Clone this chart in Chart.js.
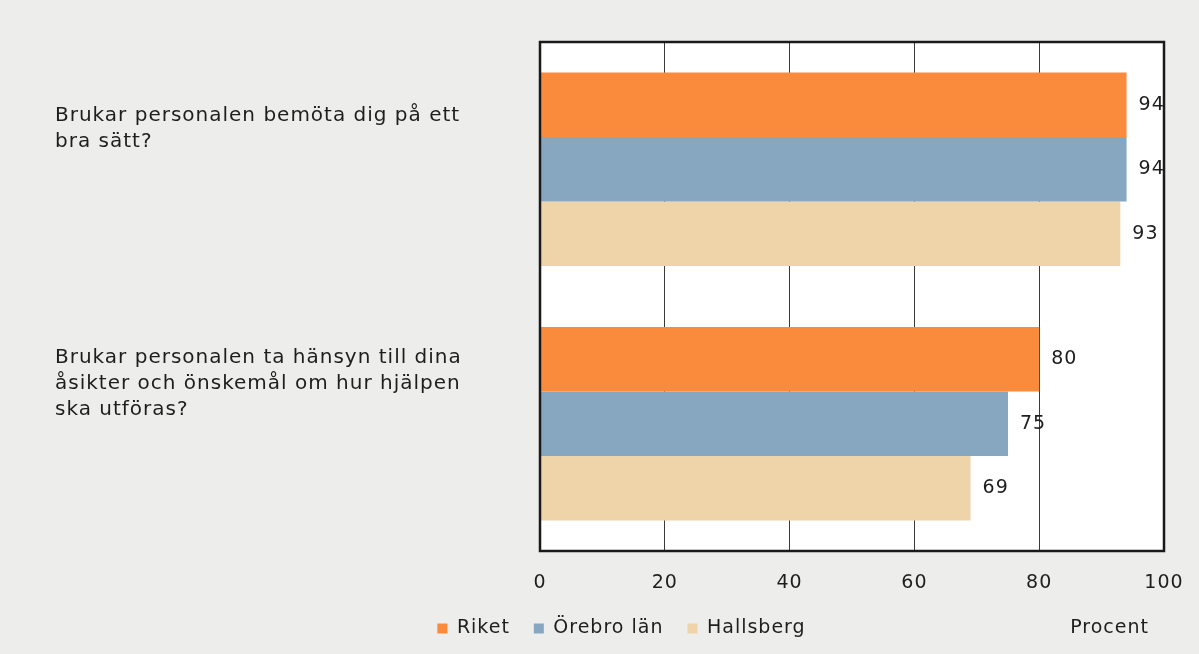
<!DOCTYPE html>
<html>
<head>
<meta charset="utf-8">
<script src="https://cdn.jsdelivr.net/npm/chart.js@4/dist/chart.umd.min.js"></script>
<style>
  html, body { margin: 0; padding: 0; background: #ededeb; }
  #wrap { width: 1199px; height: 654px; }
</style>
</head>
<body>
<div id="wrap"><canvas id="chart"></canvas></div>
<script>
const questions = [
    ["Brukar personalen bemöta dig på ett", "bra sätt?"],
    ["Brukar personalen ta hänsyn till dina", "åsikter och önskemål om hur hjälpen", "ska utföras?"]
];
const riket = [94, 80];
const orebroLan = [94, 75];
const hallsberg = [93, 69];
const xTicks = [0, 20, 40, 60, 80, 100];
const axisTitle = "Procent";

const fontFamily = "'DejaVu Sans', sans-serif";
const textColor = "#1e1e1e";

// white plot area with a black frame
const frame = {
    id: "frame",
    beforeDraw(chart) {
        const a = chart.chartArea, ctx = chart.ctx;
        ctx.letterSpacing = "1px";   // the original font runs wide
        ctx.save();
        ctx.fillStyle = "#ffffff";
        ctx.fillRect(a.left, a.top, a.right - a.left, a.bottom - a.top);
        ctx.restore();
    },
    afterDatasetsDraw(chart) {
        const a = chart.chartArea, ctx = chart.ctx;
        ctx.save();
        ctx.strokeStyle = "#1a1a1a";
        ctx.lineWidth = 2.5;
        ctx.strokeRect(a.left, a.top, a.right - a.left, a.bottom - a.top);
        ctx.restore();
    }
};

// value labels right of the bars, plus the "Procent" text
const valueLabels = {
    id: "valueLabels",
    afterDraw(chart) {
        const ctx = chart.ctx;
        ctx.save();
        ctx.font = "19px " + fontFamily;
        ctx.fillStyle = textColor;
        ctx.textAlign = "left";
        ctx.textBaseline = "middle";
        chart.data.datasets.forEach(function(ds, i) {
            chart.getDatasetMeta(i).data.forEach(function(bar, j) {
                ctx.fillText(ds.data[j], bar.x + 12, bar.y);
            });
        });
        ctx.textAlign = "right";
        ctx.fillText(axisTitle, chart.chartArea.right - 15, 628);
        ctx.restore();
    }
};

new Chart(document.getElementById("chart"), {
    type: "bar",
    data: {
        labels: questions,
        datasets: [
            { label: "Riket", data: riket, backgroundColor: "#fa8a3c" },
            { label: "Örebro län", data: orebroLan, backgroundColor: "#87a6c0" },
            { label: "Hallsberg", data: hallsberg, backgroundColor: "#efd3a9" }
        ]
    },
    options: {
        indexAxis: "y",
        responsive: true,
        maintainAspectRatio: false,
        animation: false,
        layout: { padding: { left: 55, right: 35, top: 42, bottom: 6 } },
        datasets: { bar: { categoryPercentage: 0.76, barPercentage: 1.0 } },
        scales: {
            x: {
                min: 0,
                max: 100,
                afterBuildTicks(scale) { scale.ticks = xTicks.map(v => ({ value: v })); },
                afterFit(scale) {
                    scale.height = 44;
                    scale.paddingLeft = 0;
                    scale.paddingRight = 0;
                },
                grid: { color: "#3a3a3a", lineWidth: 1, drawTicks: false },
                border: { display: false },
                ticks: { padding: 21, color: textColor, font: { family: fontFamily, size: 19 } }
            },
            y: {
                grid: { display: false },
                border: { display: false },
                ticks: {
                    crossAlign: "far",
                    labelOffset: -40,
                    padding: 0,
                    color: textColor,
                    font: { family: fontFamily, size: 20, lineHeight: 1.3 }
                },
                afterFit(scale) { scale.width = 485; }
            }
        },
        plugins: {
            legend: {
                position: "bottom",
                align: "center",
                labels: {
                    boxWidth: 10,
                    boxHeight: 10,
                    padding: 24,
                    color: textColor,
                    font: { family: fontFamily, size: 19 }
                }
            },
            tooltip: { enabled: false }
        }
    },
    plugins: [frame, valueLabels]
});
</script>
</body>
</html>
